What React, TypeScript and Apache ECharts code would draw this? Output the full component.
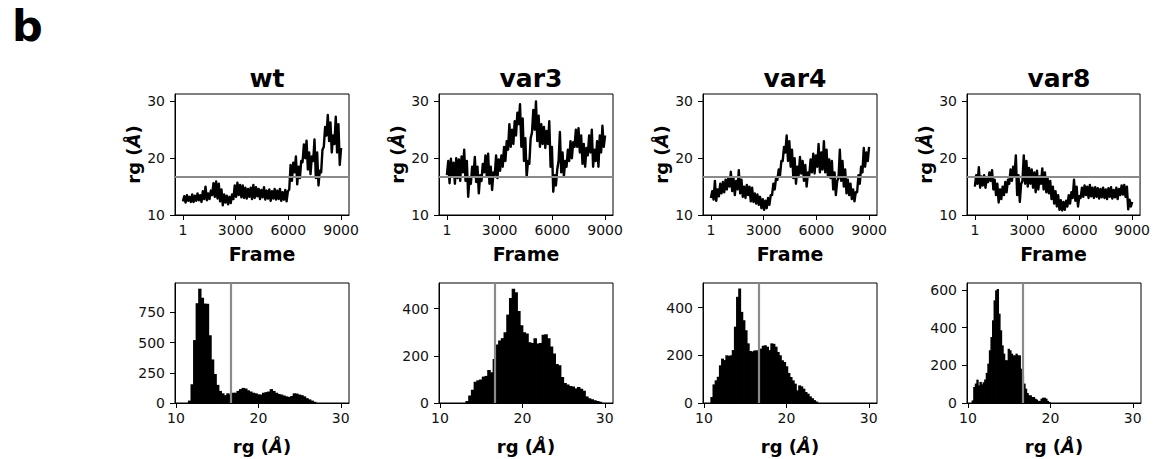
import React, { useEffect, useRef } from "react";
import * as echarts from "echarts";

// ---------- data ----------
const variants = ["wt", "var3", "var4", "var8"];
const frameTicks = [1, 3000, 6000, 9000];
const rgTicks = [10, 20, 30];
const refRg = 16.7;

// time series: envelope (low / high) sampled along frames 1..9000
const wtLow = [12.4, 12.2, 12.5, 12.3, 12.3, 12.5, 12.6, 12.3, 12.8, 12.6, 12.8, 13.5, 13.2, 12.9, 12.4, 11.7, 12.2, 11.9, 12.1, 12.8, 13.2, 13.5, 13.1, 13.0, 12.9, 13.2, 12.8, 13.0, 13.3, 12.8, 13.1, 12.7, 12.9, 12.5, 12.9, 12.7, 12.8, 12.5, 12.7, 12.4, 14.5, 16.0, 17.5, 15.4, 16.5, 19.3, 20.0, 18.0, 17.2, 19.5, 16.5, 15.2, 17.5, 22.0, 24.0, 23.0, 21.0, 22.5, 21.0, 18.8];
const wtHigh = [13.3, 13.5, 13.2, 13.6, 13.4, 13.8, 13.5, 14.2, 15.0, 13.8, 14.3, 15.6, 15.9, 15.5, 14.5, 13.6, 13.4, 13.2, 13.6, 15.2, 15.7, 15.3, 15.2, 14.8, 14.6, 14.8, 15.3, 14.9, 14.6, 14.4, 14.9, 14.3, 14.5, 14.2, 14.6, 14.3, 14.6, 14.0, 14.4, 14.2, 18.8, 19.2, 20.3, 18.5, 19.5, 22.4, 23.1, 21.0, 20.3, 23.3, 21.0, 17.8, 21.5, 25.5, 27.6, 26.3, 24.0, 27.3, 26.0, 21.8];

const var3Low = [17.0, 15.6, 16.8, 15.5, 16.5, 16.0, 17.5, 16.0, 13.2, 15.5, 17.0, 15.8, 13.8, 16.0, 17.5, 16.8, 15.5, 14.4, 17.0, 16.5, 17.8, 18.5, 19.5, 21.5, 22.0, 22.5, 24.0, 26.0, 22.0, 19.5, 16.7, 19.0, 24.5, 25.0, 23.0, 22.0, 22.5, 21.8, 22.5, 18.5, 14.1, 15.2, 19.5, 17.5, 16.8, 18.5, 19.5, 20.0, 22.0, 22.0, 21.0, 19.0, 18.5, 20.5, 21.0, 18.5, 19.5, 18.5, 21.0, 22.0];
const var3High = [19.5, 19.9, 19.2, 20.0, 19.8, 20.3, 21.5, 19.5, 16.5, 18.5, 20.2, 18.5, 17.0, 19.0, 20.5, 20.8, 18.5, 17.5, 20.5, 19.8, 20.5, 22.0, 23.0, 26.0, 25.0, 26.5, 28.0, 29.5, 27.0, 23.5, 19.5, 23.5, 28.5, 30.0, 27.5, 26.0, 25.5, 24.8, 26.5, 22.0, 17.0, 18.0, 24.6, 21.0, 19.5, 21.5, 23.0, 22.8, 25.0, 25.3, 24.0, 22.5, 21.8, 24.0, 25.0, 21.5, 23.0, 24.0, 25.7, 24.0];

const var4Low = [13.0, 12.7, 12.5, 13.3, 13.8, 14.0, 14.5, 15.0, 14.2, 13.5, 14.5, 13.8, 13.2, 13.0, 13.5, 12.4, 12.3, 12.0, 11.8, 11.2, 10.9, 11.2, 11.8, 13.5, 14.5, 16.2, 17.0, 19.5, 21.0, 19.5, 18.5, 16.5, 15.5, 17.0, 17.3, 16.0, 15.0, 17.0, 17.5, 17.3, 18.5, 17.5, 18.0, 17.5, 16.8, 16.5, 14.5, 13.5, 16.5, 16.0, 15.0, 13.8, 13.5, 12.8, 12.4, 14.0, 15.5, 17.5, 18.5, 19.5];
const var4High = [14.2, 16.0, 14.5, 15.5, 15.8, 16.2, 16.5, 17.6, 16.5, 16.0, 17.9, 16.2, 15.0, 15.3, 15.0, 14.8, 13.8, 13.6, 13.2, 12.8, 12.5, 13.0, 13.5, 15.5, 16.5, 18.0, 19.5, 22.0, 24.0, 23.0, 21.5, 20.0, 18.5, 20.2, 19.5, 18.8, 17.5, 19.8, 20.8, 20.5, 22.5, 21.0, 23.0, 21.5, 19.8, 19.5, 17.5, 16.0, 21.5, 19.5, 18.0, 16.2, 15.5, 14.5, 14.0, 17.0, 18.5, 21.8, 21.0, 22.0];

const var8Low = [15.0, 15.5, 14.8, 15.2, 14.8, 15.8, 16.0, 14.5, 13.5, 12.2, 12.8, 13.5, 14.0, 15.5, 16.0, 17.0, 13.5, 12.3, 16.0, 15.5, 15.0, 15.5, 14.8, 14.0, 14.5, 15.5, 14.5, 14.0, 13.8, 12.8, 12.0, 11.5, 10.9, 10.8, 10.9, 11.5, 12.0, 13.0, 12.5, 11.5, 13.0, 13.2, 13.5, 13.0, 13.3, 13.0, 13.2, 12.9, 13.1, 13.0, 12.8, 13.2, 12.9, 13.1, 12.8, 13.5, 13.6, 13.2, 11.0, 11.5];
const var8High = [17.0, 18.4, 16.8, 17.0, 16.5, 17.5, 17.9, 16.2, 15.5, 14.5, 15.0, 15.8, 16.2, 18.0, 18.5, 20.5, 17.0, 15.5, 20.5, 19.5, 18.3, 18.0, 17.5, 17.8, 16.8, 18.2, 17.5, 16.5, 16.0, 15.0, 14.2, 13.5, 12.6, 12.3, 12.5, 13.5, 14.0, 16.2, 15.0, 13.3, 14.8, 15.2, 15.0, 15.3, 14.8, 14.9, 14.7, 14.6, 14.8, 14.5, 14.7, 14.9, 14.4, 14.8, 14.6, 15.2, 15.3, 15.0, 12.7, 12.3];

// histograms: 50 bins each (start, bin width, counts)
const wtHistStart = 11.5;
const wtHistWidth = 0.31;
const wtCounts = [20, 155, 520, 825, 945, 870, 822, 820, 560, 360, 240, 150, 100, 80, 65, 80, 70, 85, 85, 100, 115, 125, 120, 105, 95, 85, 80, 72, 70, 85, 90, 95, 115, 100, 85, 75, 70, 62, 55, 50, 58, 80, 78, 70, 65, 55, 40, 30, 20, 10];

const var3HistStart = 13.14;
const var3HistWidth = 0.33;
const var3Counts = [8, 32, 56, 90, 96, 100, 112, 115, 140, 130, 187, 248, 265, 275, 300, 375, 445, 485, 470, 390, 330, 300, 295, 258, 255, 275, 252, 255, 290, 292, 275, 240, 210, 165, 160, 110, 85, 78, 72, 70, 62, 68, 60, 52, 28, 20, 16, 12, 9, 5];

const var4HistStart = 10.82;
const var4HistWidth = 0.26;
const var4Counts = [25, 78, 95, 110, 158, 186, 180, 200, 198, 200, 222, 320, 445, 480, 382, 347, 305, 250, 218, 216, 220, 221, 204, 228, 240, 242, 236, 222, 250, 248, 236, 214, 200, 179, 172, 154, 126, 109, 95, 81, 53, 74, 70, 60, 46, 39, 28, 20, 12, 6];

const var8HistStart = 10.49;
const var8HistWidth = 0.19;
const var8Counts = [14, 85, 103, 124, 94, 112, 99, 110, 125, 160, 209, 280, 350, 439, 545, 598, 605, 474, 386, 306, 262, 227, 227, 288, 280, 262, 253, 253, 262, 253, 253, 182, 147, 103, 76, 53, 41, 41, 32, 32, 23, 18, 11, 11, 23, 28, 28, 23, 11, 5];

const histYMax = [992, 509, 503, 637];
const histYTicks = [
  [0, 250, 500, 750],
  [0, 200, 400],
  [0, 200, 400],
  [0, 200, 400, 600],
];
const histXTicks = [10, 20, 30];

const tsLows = [wtLow, var3Low, var4Low, var8Low];
const tsHighs = [wtHigh, var3High, var4High, var8High];
const histStarts = [wtHistStart, var3HistStart, var4HistStart, var8HistStart];
const histWidths = [wtHistWidth, var3HistWidth, var4HistWidth, var8HistWidth];
const histCounts = [wtCounts, var3Counts, var4Counts, var8Counts];

// ---------- layout ----------
const FONT = "DejaVu Sans";
const panelLefts = [175, 439, 703, 967];
const panelWidth = 174;
const topRow = { top: 94, height: 121 };
const botRow = { top: 283, height: 120 };

function buildSeriesPoints(lo: number[], hi: number[]) {
  const n = lo.length * 2;
  const step = (9000 - 1) / (n - 1);
  const pts: number[][] = [];
  for (let k = 0; k < lo.length; k++) {
    pts.push([1 + 2 * k * step, lo[k]]);
    pts.push([1 + (2 * k + 1) * step, hi[k]]);
  }
  return pts;
}

function buildHist(start: number, width: number, counts: number[]) {
  return counts.map((c, i) => [start + i * width, start + (i + 1) * width, c]);
}

const axisLineStyle = { show: true, onZero: false, lineStyle: { color: "#000", width: 1 } };
const tickLabelStyle = {
  color: "#111",
  fontFamily: FONT,
  fontSize: 14,
  formatter: (v: number) => String(v),
};
const refLineStyle = { color: "#8a8a8a", width: 2.2, type: "solid" };

export default function App() {
  const ref = useRef<HTMLDivElement>(null);
  useEffect(() => {
    if (!ref.current) return;
    const chart = echarts.init(ref.current, undefined, { renderer: "svg" });

    const grids: any[] = [];
    const xAxes: any[] = [];
    const yAxes: any[] = [];
    const series: any[] = [];
    const titles: any[] = [];

    const rgName = "rg ({i|Å})";
    const nameStyle = (size: number) => ({
      color: "#000",
      fontFamily: FONT,
      fontWeight: "bold",
      fontSize: size,
      rich: {
        i: { fontFamily: FONT, fontWeight: "bold", fontStyle: "italic", fontSize: size, color: "#000" },
      },
    });

    variants.forEach((name, i) => {
      grids.push({
        left: panelLefts[i],
        width: panelWidth,
        top: topRow.top,
        height: topRow.height,
        show: true,
        borderColor: "#000",
        borderWidth: 1,
        backgroundColor: "transparent",
      });
      titles.push({
        text: name,
        left: panelLefts[i] + panelWidth / 2,
        textAlign: "center",
        top: 61,
        textStyle: { fontFamily: FONT, fontWeight: "bold", fontSize: 25, color: "#000" },
      });
    });
    variants.forEach((_, i) => {
      grids.push({
        left: panelLefts[i],
        width: panelWidth,
        top: botRow.top,
        height: botRow.height,
        show: true,
        borderColor: "#000",
        borderWidth: 1,
        backgroundColor: "transparent",
      });
    });

    // top axes + series
    variants.forEach((_, i) => {
      xAxes.push({
        type: "value",
        gridIndex: i,
        min: -449,
        max: 9450,
        axisLine: axisLineStyle,
        axisTick: { show: true, length: 5, customValues: frameTicks, lineStyle: { color: "#000" } },
        axisLabel: { ...tickLabelStyle, margin: 8, customValues: frameTicks },
        splitLine: { show: false },
        name: "Frame",
        nameLocation: "middle",
        nameGap: 29,
        nameTextStyle: { color: "#000", fontFamily: FONT, fontWeight: "bold", fontSize: 19 },
      });
      yAxes.push({
        type: "value",
        gridIndex: i,
        min: 10,
        max: 31.3,
        axisLine: axisLineStyle,
        axisTick: { show: true, length: 5, customValues: rgTicks, lineStyle: { color: "#000" } },
        axisLabel: { ...tickLabelStyle, margin: 10, customValues: rgTicks },
        splitLine: { show: false },
        name: rgName,
        nameLocation: "middle",
        nameRotate: 90,
        nameGap: 33,
        nameTextStyle: nameStyle(18),
      });
      series.push({
        type: "line",
        xAxisIndex: i,
        yAxisIndex: i,
        data: buildSeriesPoints(tsLows[i], tsHighs[i]),
        showSymbol: false,
        symbol: "none",
        lineStyle: { color: "#000", width: 2.4, join: "round" },
        markLine: {
          silent: true,
          symbol: "none",
          label: { show: false },
          lineStyle: refLineStyle,
          data: [{ yAxis: refRg }],
        },
      });
    });

    // bottom axes + series
    variants.forEach((_, i) => {
      const gi = 4 + i;
      xAxes.push({
        type: "value",
        gridIndex: gi,
        min: 9.88,
        max: 31.0,
        axisLine: axisLineStyle,
        axisTick: { show: true, length: 5, customValues: histXTicks, lineStyle: { color: "#000" } },
        axisLabel: { ...tickLabelStyle, margin: 8, customValues: histXTicks },
        splitLine: { show: false },
        name: rgName,
        nameLocation: "middle",
        nameGap: 34,
        nameTextStyle: nameStyle(18),
      });
      yAxes.push({
        type: "value",
        gridIndex: gi,
        min: 0,
        max: histYMax[i],
        axisLine: axisLineStyle,
        axisTick: { show: true, length: 5, customValues: histYTicks[i], lineStyle: { color: "#000" } },
        axisLabel: { ...tickLabelStyle, margin: 10, customValues: histYTicks[i] },
        splitLine: { show: false },
      });
      series.push({
        type: "custom",
        xAxisIndex: gi,
        yAxisIndex: gi,
        data: buildHist(histStarts[i], histWidths[i], histCounts[i]),
        encode: { x: [0, 1], y: 2 },
        renderItem: (params: any, api: any) => {
          const p0 = api.coord([api.value(0), api.value(2)]);
          const p1 = api.coord([api.value(1), 0]);
          return {
            type: "rect",
            shape: { x: p0[0] - 0.4, y: p0[1], width: p1[0] - p0[0] + 0.8, height: p1[1] - p0[1] },
            style: { fill: "#000", stroke: "none" },
          };
        },
        markLine: {
          silent: true,
          symbol: "none",
          label: { show: false },
          lineStyle: refLineStyle,
          data: [{ xAxis: refRg }],
        },
      });
    });

    chart.setOption({
      animation: false,
      backgroundColor: "#fff",
      title: titles,
      grid: grids,
      xAxis: xAxes,
      yAxis: yAxes,
      series,
      graphic: [
        {
          type: "text",
          left: 12,
          top: 4,
          style: { text: "b", fontFamily: FONT, fontWeight: "bold", fontSize: 43, fill: "#000" },
        },
      ],
    });
    return () => chart.dispose();
  }, []);

  return (
    <div
      ref={ref}
      style={{ position: "absolute", left: 0, top: 0, width: 1153, height: 459 }}
    />
  );
}
